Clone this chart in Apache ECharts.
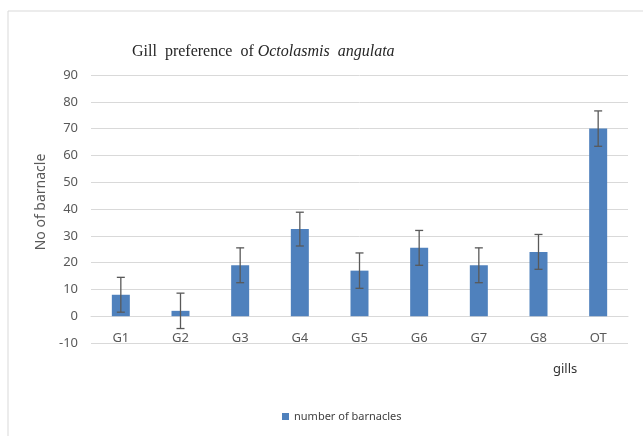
<!DOCTYPE html>
<html>
<head>
<meta charset="utf-8">
<title>Gill preference of Octolasmis angulata</title>
<script src="https://cdn.jsdelivr.net/npm/echarts@6/dist/echarts.min.js"></script>
<style>
  html, body { margin: 0; padding: 0; background: #fff; }
  #chart { width: 643px; height: 436px; }
</style>
</head>
<body>
<div id="chart"></div>
<script>
// data
const gills = ['G1', 'G2', 'G3', 'G4', 'G5', 'G6', 'G7', 'G8', 'OT'];
const barnacles = [8, 2, 19, 32.5, 17, 25.5, 19, 24, 70];
const errors = [6.5, 6.6, 6.5, 6.3, 6.6, 6.5, 6.5, 6.5, 6.6];
const yTicks = { min: -10, max: 90, interval: 10 };

const chart = echarts.init(document.getElementById('chart'));

const errData = gills.map((g, i) => [i, barnacles[i] - errors[i], barnacles[i] + errors[i]]);

chart.setOption({
  animation: false,
  title: {
    text: 'Gill  preference  of {i|Octolasmis  angulata}',
    left: 127,
    top: 39,
    textStyle: {
      fontFamily: 'Liberation Serif',
      fontWeight: 'normal',
      fontSize: 16,
      color: '#262626',
      rich: {
        i: { fontFamily: 'Liberation Serif', fontStyle: 'italic', fontSize: 16, color: '#262626' }
      }
    }
  },
  legend: {
    data: ['number of barnacles'],
    left: 277,
    top: 406,
    icon: 'rect',
    itemWidth: 7,
    itemHeight: 7,
    itemGap: 8,
    textStyle: { fontFamily: 'Noto Sans', fontSize: 11, color: '#404040' }
  },
  graphic: [
    {
      type: 'rect',
      shape: { x: 8, y: 11, width: 700, height: 500 },
      style: { fill: 'none', stroke: '#d9d9d9', lineWidth: 1 },
      silent: true
    },
    {
      type: 'text',
      left: 553,
      top: 363,
      style: { text: 'gills', fontFamily: 'Noto Sans', fontSize: 13, fill: '#333333' }
    }
  ],
  grid: { left: 91, right: 15, top: 75, bottom: 93 },
  xAxis: {
    type: 'category',
    data: gills,
    axisLine: { onZero: true, lineStyle: { color: '#d9d9d9', width: 1 } },
    axisTick: { show: false },
    axisLabel: { margin: -11, fontFamily: 'Noto Sans', fontSize: 13, color: '#595959' }
  },
  yAxis: {
    type: 'value',
    min: yTicks.min,
    max: yTicks.max,
    interval: yTicks.interval,
    name: 'No of barnacle',
    nameLocation: 'middle',
    nameGap: 42,
    nameTextStyle: { fontFamily: 'Noto Sans', fontSize: 14, color: '#595959', padding: [0, 0, 0, 14] },
    axisLine: { show: false },
    axisTick: { show: false },
    axisLabel: { margin: 13, fontFamily: 'Noto Sans', fontSize: 13, color: '#595959' },
    splitLine: { lineStyle: { color: '#d9d9d9', width: 1 } }
  },
  series: [
    {
      name: 'number of barnacles',
      type: 'bar',
      data: barnacles,
      barWidth: 18,
      itemStyle: { color: '#4f81bd' }
    },
    {
      type: 'custom',
      data: errData,
      z: 10,
      renderItem: function (params, api) {
        const idx = api.value(0);
        const lo = api.coord([idx, api.value(1)]);
        const hi = api.coord([idx, api.value(2)]);
        const half = 4;
        const style = { stroke: '#595959', lineWidth: 1.3 };
        return {
          type: 'group',
          children: [
            { type: 'line', shape: { x1: hi[0], y1: hi[1], x2: lo[0], y2: lo[1] }, style: style },
            { type: 'line', shape: { x1: hi[0] - half, y1: hi[1], x2: hi[0] + half, y2: hi[1] }, style: style },
            { type: 'line', shape: { x1: lo[0] - half, y1: lo[1], x2: lo[0] + half, y2: lo[1] }, style: style }
          ]
        };
      }
    }
  ]
});

window.addEventListener('resize', () => chart.resize());
</script>
</body>
</html>
